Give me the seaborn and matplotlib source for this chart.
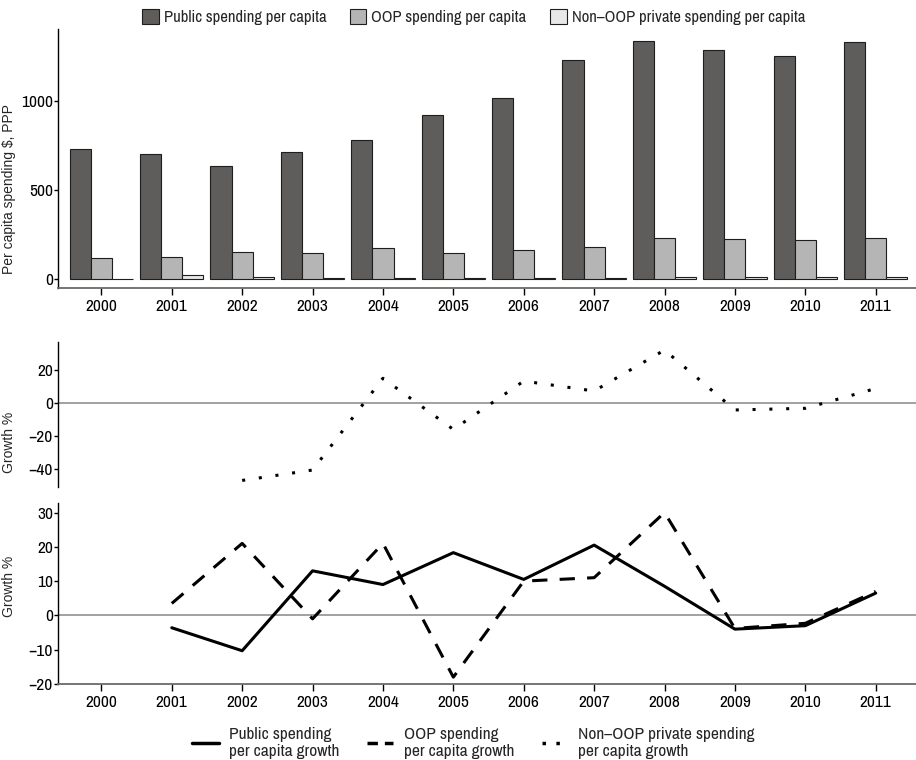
import pandas as pd
import matplotlib.pyplot as plt
import numpy as np
import seaborn as sns
from matplotlib.lines import Line2D

years = [2000, 2001, 2002, 2003, 2004, 2005, 2006, 2007, 2008, 2009, 2010, 2011]

# per capita spending, $ PPP
public_pc = [727, 702, 632, 714, 778, 920, 1017, 1227, 1336, 1285, 1250, 1332]
oop_pc = [118, 122, 148, 144, 174, 143, 160, 176, 230, 221, 216, 230]
nonoop_pc = [0, 19, 10, 6, 7, 6, 7, 7, 10, 9.5, 9, 10]

# growth %
public_growth = [np.nan, -3.6, -10.3, 13, 9, 18.3, 10.5, 20.5, 8.5, -4, -3, 6.5]
oop_growth = [np.nan, 3.5, 21, -1, 21, -18, 10, 11, 30, -3.8, -2.3, 7]
nonoop_growth = [np.nan, np.nan, -46.7, -40.4, 15.2, -15.8, 13.5, 7.5, 32.3, -4, -3, 9]

bar_labels = ['Public spending per capita', 'OOP spending per capita',
              'Non\u2013OOP private spending per capita']
line_labels = ['Public spending\nper capita growth', 'OOP spending\nper capita growth',
               'Non\u2013OOP private spending\nper capita growth']

sns.set_style('ticks')
plt.rcParams['font.family'] = ['Archivo Narrow', 'DejaVu Sans']
plt.rcParams['font.size'] = 12
ylab_font = dict(family=['Liberation Sans', 'DejaVu Sans'], fontsize=10)

df_bar = pd.DataFrame({
    'year': [str(y) for y in years] * 3,
    'series': [bar_labels[0]] * 12 + [bar_labels[1]] * 12 + [bar_labels[2]] * 12,
    'value': public_pc + oop_pc + nonoop_pc,
})

fig = plt.figure(figsize=(9.16, 7.6), dpi=100)
ax1 = fig.add_axes([0.0638, 0.621, 0.936, 0.3408])
ax2 = fig.add_axes([0.0638, 0.3596, 0.936, 0.19])
ax3 = fig.add_axes([0.0638, 0.1, 0.936, 0.2378])

# top panel: bars
sns.barplot(data=df_bar, x='year', y='value', hue='series', ax=ax1,
            palette=['#5e5d5b', '#b5b5b5', '#e8e8e8'], edgecolor='#1e1e1e',
            linewidth=0.8, width=0.9, errorbar=None, saturation=1)
handles, labels = ax1.get_legend_handles_labels()
ax1.get_legend().remove()
fig.legend(handles, labels, loc='center', bbox_to_anchor=(0.517, 0.978), ncol=3,
           frameon=False, handlelength=1.0, handleheight=1.0, handletextpad=0.3,
           columnspacing=1.4, fontsize=12)
ax1.set_xlim(-0.61, 11.57)
ax1.set_ylim(-52, 1403)
ax1.set_yticks([0, 500, 1000])
ax1.set_xlabel('')
ax1.set_ylabel('Per capita spending $, PPP', **ylab_font)
ax1.yaxis.set_label_coords(-0.05, 0.382)

# middle panel: non-OOP growth
sns.lineplot(x=years, y=nonoop_growth, ax=ax2, color='black', lw=2.2,
             linestyle=(0, (1, 4.5)))
ax2.axhline(0, color='#9a9a9a', lw=1.3, zorder=0)
ax2.set_xlim(1999.39, 2011.57)
ax2.set_ylim(-50.5, 37)
ax2.set_yticks([-40, -20, 0, 20])
ax2.set_xticks([])
ax2.set_ylabel('Growth %', **ylab_font)
ax2.yaxis.set_label_coords(-0.05, 0.31)

# bottom panel: public and OOP growth
sns.lineplot(x=years, y=public_growth, ax=ax3, color='black', lw=2.2, linestyle='-')
sns.lineplot(x=years, y=oop_growth, ax=ax3, color='black', lw=2.2,
             linestyle=(0, (5, 4)))
ax3.axhline(0, color='#9a9a9a', lw=1.3, zorder=0)
ax3.set_xlim(1999.39, 2011.57)
ax3.set_ylim(-20, 32.7)
ax3.set_yticks([-20, -10, 0, 10, 20, 30])
ax3.set_xticks(years)
ax3.set_ylabel('Growth %', **ylab_font)
ax3.yaxis.set_label_coords(-0.05, 0.54)

for ax in (ax1, ax2, ax3):
    sns.despine(ax=ax)
    ax.spines['left'].set_color('black')
    ax.spines['left'].set_linewidth(1.0)
    ax.spines['bottom'].set_color('#6a6a6a')
    ax.spines['bottom'].set_linewidth(1.3)
    ax.tick_params(axis='y', length=3, width=1, pad=1, colors='black', labelsize=12.5)
    ax.tick_params(axis='x', length=5, width=1, pad=3, colors='black', labelsize=12.5)
ax2.spines['bottom'].set_visible(False)

line_handles = [
    Line2D([0], [0], color='black', lw=2.5, linestyle='-'),
    Line2D([0], [0], color='black', lw=2.5, linestyle=(0, (3, 2))),
    Line2D([0], [0], color='black', lw=2.5, linestyle=(0, (1, 3))),
]
fig.legend(line_handles, line_labels, loc='center', bbox_to_anchor=(0.517, 0.022),
           ncol=3, frameon=False, handlelength=1.5, handletextpad=0.6,
           columnspacing=1.6, fontsize=12.5, labelspacing=0.2)

fig.savefig('out.png', dpi=100)
